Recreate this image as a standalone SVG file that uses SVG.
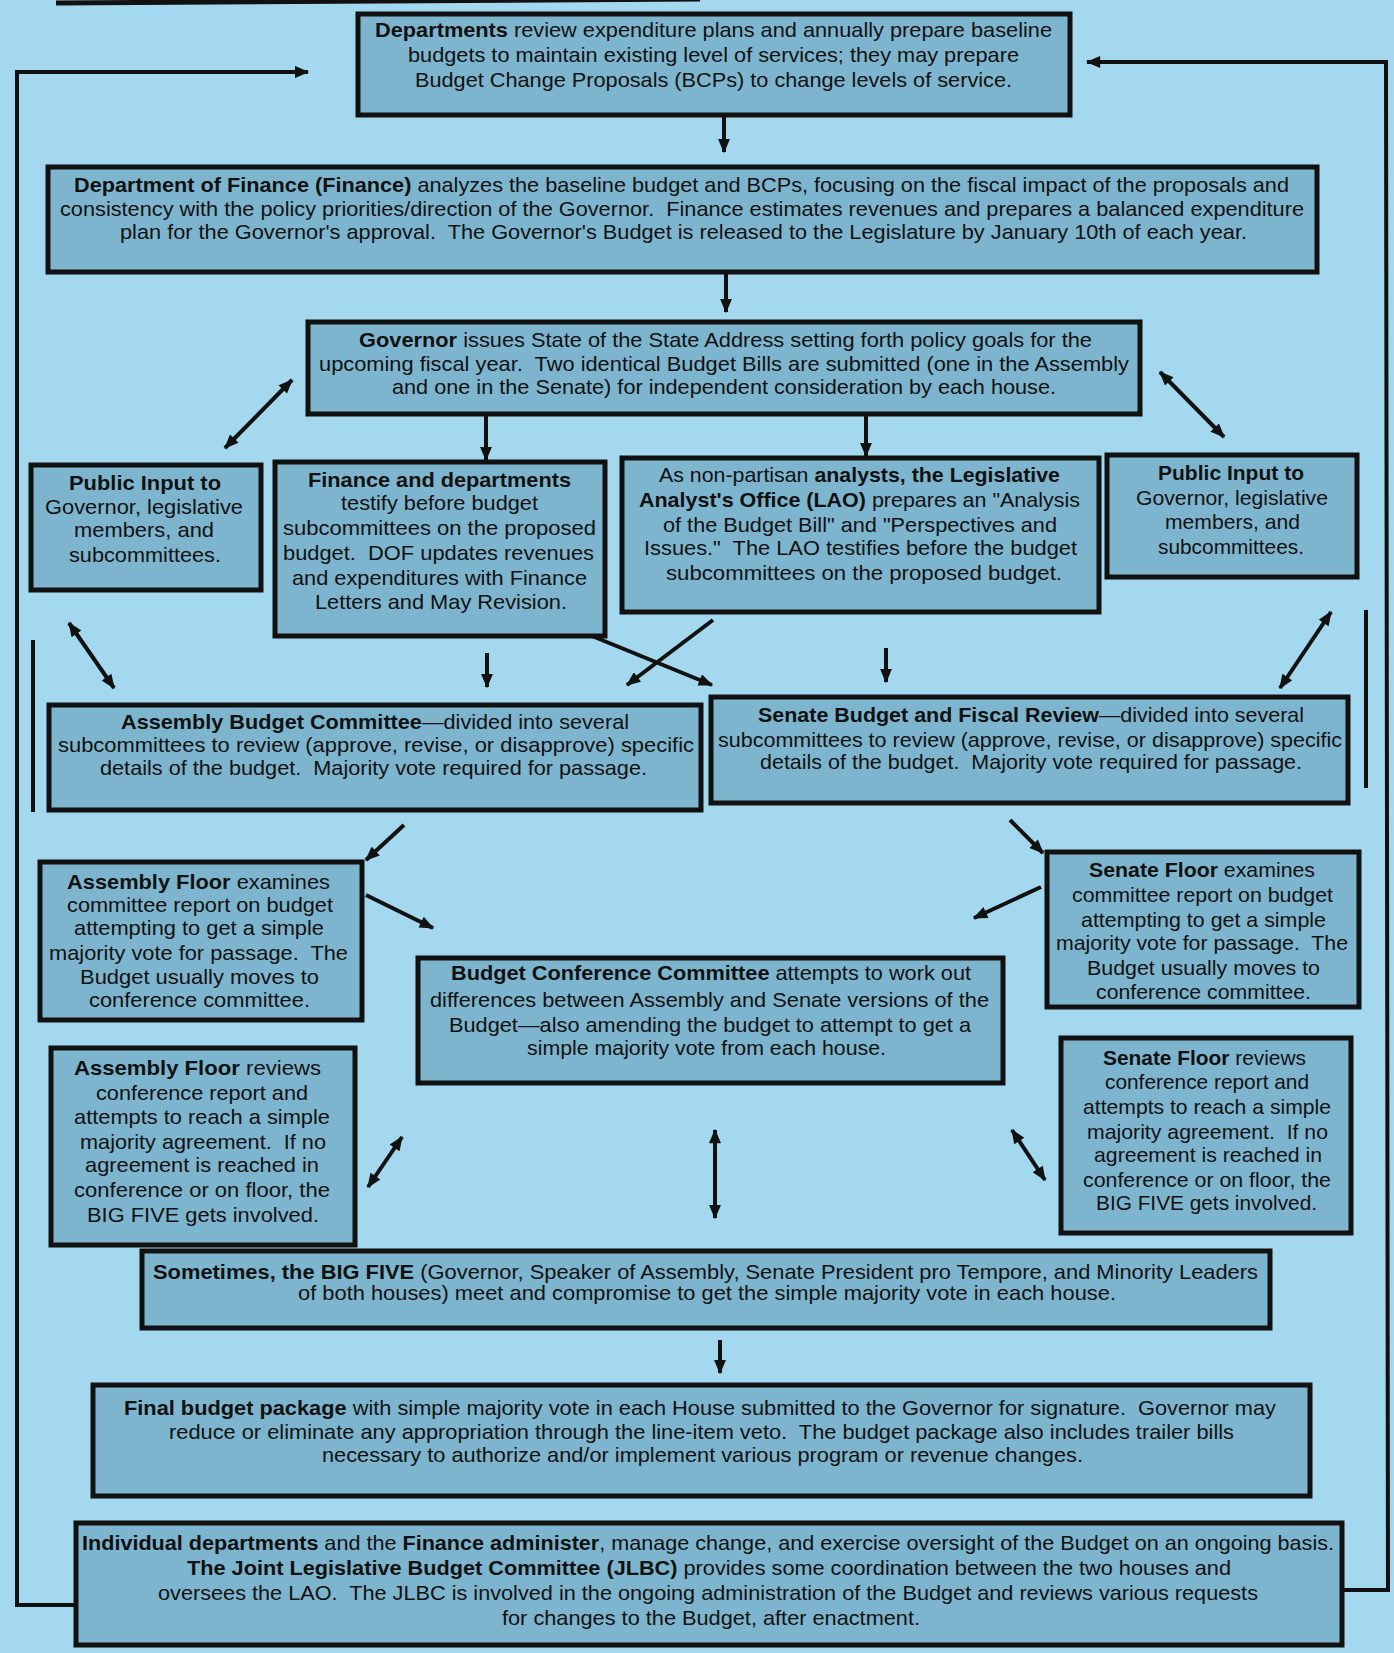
<svg xmlns="http://www.w3.org/2000/svg" width="1394" height="1653" viewBox="0 0 1394 1653" xml:space="preserve">
<defs>
<style>
.bg{fill:#a3d8ef}
.box{fill:#7eb5ce;stroke:#111;stroke-width:5}
.t{font-family:"Liberation Sans",Arial,Helvetica,sans-serif;font-size:21px;fill:#111;white-space:pre}
.b{font-weight:bold}
.c{stroke:#111;stroke-width:4;fill:none}
.a{marker-end:url(#ah)}
.d{marker-start:url(#ah);marker-end:url(#ah)}
</style>
<marker id="ah" viewBox="0 0 12 10" refX="11" refY="5" markerWidth="15" markerHeight="12" markerUnits="userSpaceOnUse" orient="auto-start-reverse">
<path d="M0,0 L12,5 L0,10 z" fill="#111"/>
</marker>
</defs>
<rect class="bg" x="0" y="0" width="1394" height="1653"/>
<g id="connectors">
<line class="c" x1="56" y1="3" x2="700" y2="-1" style="stroke-width:5"/>
<polyline class="c a" points="76,1605 17,1605 17,72 308,72"/>
<polyline class="c a" points="1342,1590 1388,1590 1386,62 1087,62"/>
<line class="c a" x1="724" y1="115" x2="724" y2="152"/>
<line class="c a" x1="726" y1="272" x2="726" y2="312"/>
<line class="c a" x1="486" y1="416" x2="486" y2="460"/>
<line class="c a" x1="866" y1="412" x2="866" y2="456"/>
<line class="c d" x1="292" y1="380" x2="225" y2="448"/>
<line class="c d" x1="1160" y1="372" x2="1224" y2="437"/>
<line class="c a" x1="487" y1="653" x2="487" y2="687"/>
<line class="c a" x1="886" y1="648" x2="886" y2="682"/>
<line class="c a" x1="592" y1="636" x2="712" y2="685"/>
<line class="c a" x1="713" y1="620" x2="627" y2="685"/>
<line class="c d" x1="69" y1="623" x2="114" y2="688"/>
<line class="c d" x1="1331" y1="612" x2="1280" y2="688"/>
<line class="c" x1="33" y1="640" x2="33" y2="812"/>
<line class="c" x1="1366" y1="610" x2="1366" y2="788"/>
<line class="c a" x1="404" y1="825" x2="366" y2="860"/>
<line class="c a" x1="1010" y1="820" x2="1043" y2="853"/>
<line class="c a" x1="366" y1="895" x2="433" y2="928"/>
<line class="c a" x1="1041" y1="887" x2="974" y2="918"/>
<line class="c d" x1="402" y1="1137" x2="368" y2="1187"/>
<line class="c d" x1="715" y1="1130" x2="715" y2="1218"/>
<line class="c d" x1="1012" y1="1130" x2="1045" y2="1180"/>
<line class="c a" x1="720" y1="1340" x2="720" y2="1373"/>
</g>
<g id="departments">
<rect class="box" x="358" y="14" width="712" height="101"/>
<text class="t" x="375" y="37" textLength="677" lengthAdjust="spacingAndGlyphs"><tspan class="b">Departments</tspan> review expenditure plans and annually prepare baseline</text>
<text class="t" x="408" y="62" textLength="611" lengthAdjust="spacingAndGlyphs">budgets to maintain existing level of services; they may prepare</text>
<text class="t" x="415" y="87" textLength="597" lengthAdjust="spacingAndGlyphs">Budget Change Proposals (BCPs) to change levels of service.</text>
</g>
<g id="finance">
<rect class="box" x="48" y="167" width="1269" height="105"/>
<text class="t" x="74" y="192" textLength="1215" lengthAdjust="spacingAndGlyphs"><tspan class="b">Department of Finance (Finance)</tspan> analyzes the baseline budget and BCPs, focusing on the fiscal impact of the proposals and</text>
<text class="t" x="60" y="216" textLength="1244" lengthAdjust="spacingAndGlyphs">consistency with the policy priorities/direction of the Governor.  Finance estimates revenues and prepares a balanced expenditure</text>
<text class="t" x="120" y="239" textLength="1127" lengthAdjust="spacingAndGlyphs">plan for the Governor's approval.  The Governor's Budget is released to the Legislature by January 10th of each year.</text>
</g>
<g id="governor">
<rect class="box" x="308" y="322" width="832" height="92"/>
<text class="t" x="359" y="347" textLength="733" lengthAdjust="spacingAndGlyphs"><tspan class="b">Governor</tspan> issues State of the State Address setting forth policy goals for the</text>
<text class="t" x="319" y="371" textLength="810" lengthAdjust="spacingAndGlyphs">upcoming fiscal year.  Two identical Budget Bills are submitted (one in the Assembly</text>
<text class="t" x="392" y="394" textLength="664" lengthAdjust="spacingAndGlyphs">and one in the Senate) for independent consideration by each house.</text>
</g>
<g id="public-input-left">
<rect class="box" x="31" y="465" width="230" height="125"/>
<text class="t b" x="69" y="490" textLength="152" lengthAdjust="spacingAndGlyphs">Public Input to</text>
<text class="t" x="45" y="514" textLength="198" lengthAdjust="spacingAndGlyphs">Governor, legislative</text>
<text class="t" x="74" y="537" textLength="140" lengthAdjust="spacingAndGlyphs">members, and</text>
<text class="t" x="69" y="562" textLength="152" lengthAdjust="spacingAndGlyphs">subcommittees.</text>
</g>
<g id="finance-departments">
<rect class="box" x="275" y="462" width="330" height="174"/>
<text class="t b" x="308" y="487" textLength="263" lengthAdjust="spacingAndGlyphs">Finance and departments</text>
<text class="t" x="341" y="510" textLength="197" lengthAdjust="spacingAndGlyphs">testify before budget</text>
<text class="t" x="283" y="535" textLength="313" lengthAdjust="spacingAndGlyphs">subcommittees on the proposed</text>
<text class="t" x="283" y="560" textLength="311" lengthAdjust="spacingAndGlyphs">budget.  DOF updates revenues</text>
<text class="t" x="292" y="585" textLength="295" lengthAdjust="spacingAndGlyphs">and expenditures with Finance</text>
<text class="t" x="315" y="609" textLength="252" lengthAdjust="spacingAndGlyphs">Letters and May Revision.</text>
</g>
<g id="lao">
<rect class="box" x="622" y="458" width="477" height="154"/>
<text class="t" x="659" y="482" textLength="401" lengthAdjust="spacingAndGlyphs">As non-partisan <tspan class="b">analysts, the Legislative</tspan></text>
<text class="t" x="639" y="507" textLength="441" lengthAdjust="spacingAndGlyphs"><tspan class="b">Analyst's Office (LAO)</tspan> prepares an "Analysis</text>
<text class="t" x="663" y="532" textLength="394" lengthAdjust="spacingAndGlyphs">of the Budget Bill" and "Perspectives and</text>
<text class="t" x="644" y="555" textLength="433" lengthAdjust="spacingAndGlyphs">Issues."  The LAO testifies before the budget</text>
<text class="t" x="666" y="580" textLength="396" lengthAdjust="spacingAndGlyphs">subcommittees on the proposed budget.</text>
</g>
<g id="public-input-right">
<rect class="box" x="1107" y="455" width="250" height="122"/>
<text class="t b" x="1158" y="480" textLength="146" lengthAdjust="spacingAndGlyphs">Public Input to</text>
<text class="t" x="1136" y="505" textLength="192" lengthAdjust="spacingAndGlyphs">Governor, legislative</text>
<text class="t" x="1165" y="529" textLength="135" lengthAdjust="spacingAndGlyphs">members, and</text>
<text class="t" x="1158" y="554" textLength="146" lengthAdjust="spacingAndGlyphs">subcommittees.</text>
</g>
<g id="assembly-budget-committee">
<rect class="box" x="49" y="705" width="652" height="105"/>
<text class="t" x="121" y="729" textLength="508" lengthAdjust="spacingAndGlyphs"><tspan class="b">Assembly Budget Committee</tspan>—divided into several</text>
<text class="t" x="58" y="752" textLength="636" lengthAdjust="spacingAndGlyphs">subcommittees to review (approve, revise, or disapprove) specific</text>
<text class="t" x="100" y="775" textLength="547" lengthAdjust="spacingAndGlyphs">details of the budget.  Majority vote required for passage.</text>
</g>
<g id="senate-budget-review">
<rect class="box" x="711" y="697" width="637" height="106"/>
<text class="t" x="758" y="722" textLength="546" lengthAdjust="spacingAndGlyphs"><tspan class="b">Senate Budget and Fiscal Review</tspan>—divided into several</text>
<text class="t" x="718" y="747" textLength="624" lengthAdjust="spacingAndGlyphs">subcommittees to review (approve, revise, or disapprove) specific</text>
<text class="t" x="760" y="769" textLength="542" lengthAdjust="spacingAndGlyphs">details of the budget.  Majority vote required for passage.</text>
</g>
<g id="assembly-floor-examines">
<rect class="box" x="40" y="862" width="322" height="158"/>
<text class="t" x="67" y="889" textLength="263" lengthAdjust="spacingAndGlyphs"><tspan class="b">Assembly Floor</tspan> examines</text>
<text class="t" x="67" y="912" textLength="266" lengthAdjust="spacingAndGlyphs">committee report on budget</text>
<text class="t" x="74" y="935" textLength="250" lengthAdjust="spacingAndGlyphs">attempting to get a simple</text>
<text class="t" x="49" y="960" textLength="299" lengthAdjust="spacingAndGlyphs">majority vote for passage.  The</text>
<text class="t" x="80" y="984" textLength="239" lengthAdjust="spacingAndGlyphs">Budget usually moves to</text>
<text class="t" x="89" y="1007" textLength="221" lengthAdjust="spacingAndGlyphs">conference committee.</text>
</g>
<g id="senate-floor-examines">
<rect class="box" x="1047" y="852" width="312" height="155"/>
<text class="t" x="1089" y="877" textLength="226" lengthAdjust="spacingAndGlyphs"><tspan class="b">Senate Floor</tspan> examines</text>
<text class="t" x="1072" y="902" textLength="261" lengthAdjust="spacingAndGlyphs">committee report on budget</text>
<text class="t" x="1081" y="927" textLength="245" lengthAdjust="spacingAndGlyphs">attempting to get a simple</text>
<text class="t" x="1056" y="950" textLength="292" lengthAdjust="spacingAndGlyphs">majority vote for passage.  The</text>
<text class="t" x="1087" y="975" textLength="233" lengthAdjust="spacingAndGlyphs">Budget usually moves to</text>
<text class="t" x="1096" y="999" textLength="215" lengthAdjust="spacingAndGlyphs">conference committee.</text>
</g>
<g id="budget-conference-committee">
<rect class="box" x="418" y="958" width="585" height="125"/>
<text class="t" x="451" y="980" textLength="520" lengthAdjust="spacingAndGlyphs"><tspan class="b">Budget Conference Committee</tspan> attempts to work out</text>
<text class="t" x="430" y="1007" textLength="559" lengthAdjust="spacingAndGlyphs">differences between Assembly and Senate versions of the</text>
<text class="t" x="449" y="1032" textLength="522" lengthAdjust="spacingAndGlyphs">Budget—also amending the budget to attempt to get a</text>
<text class="t" x="527" y="1055" textLength="359" lengthAdjust="spacingAndGlyphs">simple majority vote from each house.</text>
</g>
<g id="assembly-floor-reviews">
<rect class="box" x="51" y="1048" width="304" height="197"/>
<text class="t" x="74" y="1075" textLength="247" lengthAdjust="spacingAndGlyphs"><tspan class="b">Assembly Floor</tspan> reviews</text>
<text class="t" x="96" y="1100" textLength="212" lengthAdjust="spacingAndGlyphs">conference report and</text>
<text class="t" x="74" y="1124" textLength="256" lengthAdjust="spacingAndGlyphs">attempts to reach a simple</text>
<text class="t" x="80" y="1149" textLength="246" lengthAdjust="spacingAndGlyphs">majority agreement.  If no</text>
<text class="t" x="85" y="1172" textLength="234" lengthAdjust="spacingAndGlyphs">agreement is reached in</text>
<text class="t" x="74" y="1197" textLength="256" lengthAdjust="spacingAndGlyphs">conference or on floor, the</text>
<text class="t" x="87" y="1222" textLength="232" lengthAdjust="spacingAndGlyphs">BIG FIVE gets involved.</text>
</g>
<g id="senate-floor-reviews">
<rect class="box" x="1061" y="1038" width="290" height="195"/>
<text class="t" x="1103" y="1065" textLength="203" lengthAdjust="spacingAndGlyphs"><tspan class="b">Senate Floor</tspan> reviews</text>
<text class="t" x="1105" y="1089" textLength="204" lengthAdjust="spacingAndGlyphs">conference report and</text>
<text class="t" x="1083" y="1114" textLength="248" lengthAdjust="spacingAndGlyphs">attempts to reach a simple</text>
<text class="t" x="1087" y="1139" textLength="241" lengthAdjust="spacingAndGlyphs">majority agreement.  If no</text>
<text class="t" x="1094" y="1162" textLength="228" lengthAdjust="spacingAndGlyphs">agreement is reached in</text>
<text class="t" x="1083" y="1187" textLength="248" lengthAdjust="spacingAndGlyphs">conference or on floor, the</text>
<text class="t" x="1096" y="1210" textLength="221" lengthAdjust="spacingAndGlyphs">BIG FIVE gets involved.</text>
</g>
<g id="big-five">
<rect class="box" x="142" y="1251" width="1128" height="77"/>
<text class="t" x="153" y="1279" textLength="1105" lengthAdjust="spacingAndGlyphs"><tspan class="b">Sometimes, the BIG FIVE</tspan> (Governor, Speaker of Assembly, Senate President pro Tempore, and Minority Leaders</text>
<text class="t" x="298" y="1300" textLength="818" lengthAdjust="spacingAndGlyphs">of both houses) meet and compromise to get the simple majority vote in each house.</text>
</g>
<g id="final-budget">
<rect class="box" x="93" y="1385" width="1217" height="111"/>
<text class="t" x="124" y="1415" textLength="1152" lengthAdjust="spacingAndGlyphs"><tspan class="b">Final budget package</tspan> with simple majority vote in each House submitted to the Governor for signature.  Governor may</text>
<text class="t" x="169" y="1439" textLength="1065" lengthAdjust="spacingAndGlyphs">reduce or eliminate any appropriation through the line-item veto.  The budget package also includes trailer bills</text>
<text class="t" x="322" y="1462" textLength="761" lengthAdjust="spacingAndGlyphs">necessary to authorize and/or implement various program or revenue changes.</text>
</g>
<g id="administration">
<rect class="box" x="76" y="1523" width="1266" height="122"/>
<text class="t" x="82" y="1550" textLength="1252" lengthAdjust="spacingAndGlyphs"><tspan class="b">Individual departments</tspan> and the <tspan class="b">Finance administer</tspan>, manage change, and exercise oversight of the Budget on an ongoing basis.</text>
<text class="t" x="187" y="1575" textLength="1044" lengthAdjust="spacingAndGlyphs"><tspan class="b">The Joint Legislative Budget Committee (JLBC)</tspan> provides some coordination between the two houses and</text>
<text class="t" x="158" y="1600" textLength="1100" lengthAdjust="spacingAndGlyphs">oversees the LAO.  The JLBC is involved in the ongoing administration of the Budget and reviews various requests</text>
<text class="t" x="502" y="1625" textLength="418" lengthAdjust="spacingAndGlyphs">for changes to the Budget, after enactment.</text>
</g>
</svg>
